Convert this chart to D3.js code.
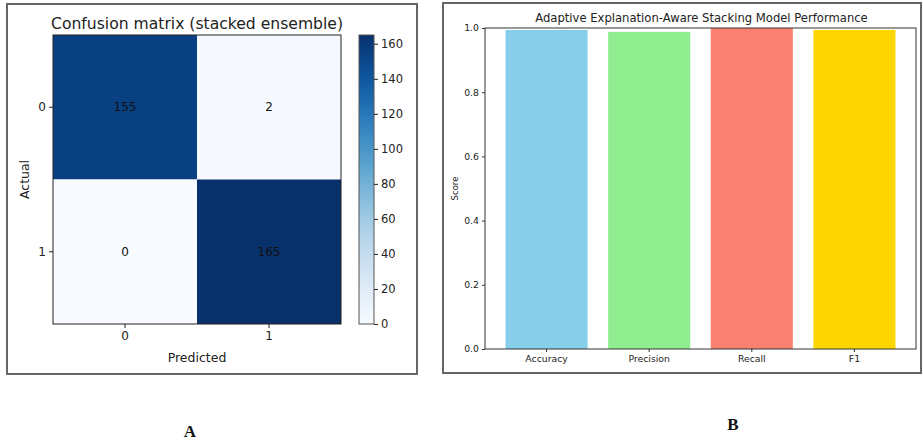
<!DOCTYPE html>
<html>
<head>
<meta charset="utf-8">
<script src="https://cdn.jsdelivr.net/npm/d3@7"></script>
<style>
  html, body { margin: 0; padding: 0; background: #fff; }
  svg { display: block; font-family: "DejaVu Sans", sans-serif; }
</style>
</head>
<body>
<svg id="chart" width="923" height="441"></svg>
<script>
// Confusion matrix of the stacked ensemble (rows = actual, cols = predicted)
const classLabels = ["0", "1"];
const matrixValues = [
  [155, 2],
  [0, 165]
];
const colorbarTicks = [0, 20, 40, 60, 80, 100, 120, 140, 160];

// Performance metrics of the stacking model
const metricNames = ["Accuracy", "Precision", "Recall", "F1"];
const metricScores = [0.9938, 0.9880, 1.0, 0.9940];
const metricColors = ["#87ceeb", "#90ee90", "#fa8072", "#ffd700"];
const scoreTicks = [0.0, 0.2, 0.4, 0.6, 0.8, 1.0];

const svg = d3.select("#chart");
const frameColor = "#666";

// ---------- Panel A: confusion matrix ----------
const pA = svg.append("g");
pA.append("rect").attr("x", 7).attr("y", 4).attr("width", 410).attr("height", 370)
  .attr("fill", "none").attr("stroke", frameColor).attr("stroke-width", 2);

const hm = { left: 53, top: 35, right: 341, bottom: 324 };
const xA = d3.scaleBand().domain(classLabels).range([hm.left, hm.right]);
const yA = d3.scaleBand().domain(classLabels).range([hm.top, hm.bottom]);
const vmax = d3.max(matrixValues.flat());
const color = d3.scaleSequential(d3.interpolateBlues).domain([0, vmax]);

const cells = [];
matrixValues.forEach((row, i) => row.forEach((v, j) => cells.push({ r: classLabels[i], c: classLabels[j], v })));

pA.selectAll("rect.cell").data(cells).join("rect")
  .attr("class", "cell")
  .attr("x", d => xA(d.c)).attr("y", d => yA(d.r))
  .attr("width", xA.bandwidth()).attr("height", yA.bandwidth())
  .attr("fill", d => color(d.v));

pA.selectAll("text.val").data(cells).join("text")
  .attr("class", "val")
  .attr("x", d => xA(d.c) + xA.bandwidth() / 2)
  .attr("y", d => yA(d.r) + yA.bandwidth() / 2)
  .attr("text-anchor", "middle").attr("dominant-baseline", "central")
  .attr("font-size", 12).attr("fill", "#111")
  .text(d => d.v);

pA.append("rect").attr("x", hm.left).attr("y", hm.top)
  .attr("width", hm.right - hm.left).attr("height", hm.bottom - hm.top)
  .attr("fill", "none").attr("stroke", "#222").attr("stroke-width", 1);

const axA_x = pA.append("g").attr("transform", `translate(0,${hm.bottom})`)
  .call(d3.axisBottom(xA).tickSize(4).tickPadding(3));
const axA_y = pA.append("g").attr("transform", `translate(${hm.left},0)`)
  .call(d3.axisLeft(yA).tickSize(4).tickPadding(3));
[axA_x, axA_y].forEach(a => {
  a.select(".domain").remove();
  a.selectAll("text").attr("font-size", 12).attr("fill", "#222").attr("font-family", "DejaVu Sans");
  a.selectAll("line").attr("stroke", "#222");
});

pA.append("text").attr("x", (hm.left + hm.right) / 2).attr("y", 29)
  .attr("text-anchor", "middle").attr("font-size", 15.6).attr("fill", "#222")
  .text("Confusion matrix (stacked ensemble)");
pA.append("text").attr("x", (hm.left + hm.right) / 2).attr("y", 362)
  .attr("text-anchor", "middle").attr("font-size", 12.5).attr("fill", "#222")
  .text("Predicted");
pA.append("text").attr("transform", `translate(29,${(hm.top + hm.bottom) / 2}) rotate(-90)`)
  .attr("text-anchor", "middle").attr("font-size", 12.5).attr("fill", "#222")
  .text("Actual");

// Colorbar
const cb = { left: 359, width: 15, top: 35, bottom: 324 };
const cbScale = d3.scaleLinear().domain([0, vmax]).range([cb.bottom, cb.top]);
const defs = svg.append("defs");
const grad = defs.append("linearGradient").attr("id", "blues")
  .attr("x1", 0).attr("y1", 1).attr("x2", 0).attr("y2", 0);
d3.range(0, 1.0001, 0.05).forEach(t => {
  grad.append("stop").attr("offset", t).attr("stop-color", d3.interpolateBlues(t));
});
pA.append("rect").attr("x", cb.left).attr("y", cb.top)
  .attr("width", cb.width).attr("height", cb.bottom - cb.top)
  .attr("fill", "url(#blues)").attr("stroke", "#555").attr("stroke-width", 1);
const axCb = pA.append("g").attr("transform", `translate(${cb.left + cb.width},0)`)
  .call(d3.axisRight(cbScale).tickValues(colorbarTicks).tickSize(4).tickPadding(3));
axCb.select(".domain").remove();
axCb.selectAll("text").attr("font-size", 11.5).attr("fill", "#222").attr("font-family", "DejaVu Sans");
axCb.selectAll("line").attr("stroke", "#222");

// ---------- Panel B: metric bars ----------
const pB = svg.append("g");
pB.append("rect").attr("x", 443).attr("y", 3).attr("width", 478).attr("height", 370)
  .attr("fill", "none").attr("stroke", frameColor).attr("stroke-width", 2);

const pl = { left: 485, top: 28, right: 916, bottom: 349 };
const xB = d3.scaleBand().domain(metricNames).range([pl.left, pl.right])
  .paddingInner(0.2).paddingOuter(0.2);
const yB = d3.scaleLinear().domain([0, 1]).range([pl.bottom, pl.top]);

pB.selectAll("rect.bar").data(metricNames).join("rect")
  .attr("class", "bar")
  .attr("x", d => xB(d)).attr("width", xB.bandwidth())
  .attr("y", (d, i) => yB(metricScores[i]))
  .attr("height", (d, i) => yB(0) - yB(metricScores[i]))
  .attr("fill", (d, i) => metricColors[i]);

pB.append("rect").attr("x", pl.left).attr("y", pl.top)
  .attr("width", pl.right - pl.left).attr("height", pl.bottom - pl.top)
  .attr("fill", "none").attr("stroke", "#333").attr("stroke-width", 1);

const axB_x = pB.append("g").attr("transform", `translate(0,${pl.bottom})`)
  .call(d3.axisBottom(xB).tickSize(3).tickPadding(3));
const axB_y = pB.append("g").attr("transform", `translate(${pl.left},0)`)
  .call(d3.axisLeft(yB).tickValues(scoreTicks).tickFormat(d3.format(".1f")).tickSize(3).tickPadding(3));
[axB_x, axB_y].forEach(a => {
  a.select(".domain").remove();
  a.selectAll("text").attr("font-size", 9.3).attr("fill", "#222").attr("font-family", "DejaVu Sans");
  a.selectAll("line").attr("stroke", "#333");
});

pB.append("text").attr("x", (pl.left + pl.right) / 2 + 1).attr("y", 22)
  .attr("text-anchor", "middle").attr("font-size", 11.6).attr("fill", "#222")
  .text("Adaptive Explanation-Aware Stacking Model Performance");
pB.append("text").attr("transform", `translate(458,${(pl.top + pl.bottom) / 2}) rotate(-90)`)
  .attr("text-anchor", "middle").attr("font-size", 8.5).attr("fill", "#222")
  .text("Score");

// ---------- Panel letters ----------
svg.append("text").attr("x", 190).attr("y", 437).attr("text-anchor", "middle")
  .attr("font-family", "Liberation Serif, serif").attr("font-size", 17).attr("font-weight", "bold")
  .attr("fill", "#111").text("A");
svg.append("text").attr("x", 733).attr("y", 430).attr("text-anchor", "middle")
  .attr("font-family", "Liberation Serif, serif").attr("font-size", 17).attr("font-weight", "bold")
  .attr("fill", "#111").text("B");
</script>
</body>
</html>
